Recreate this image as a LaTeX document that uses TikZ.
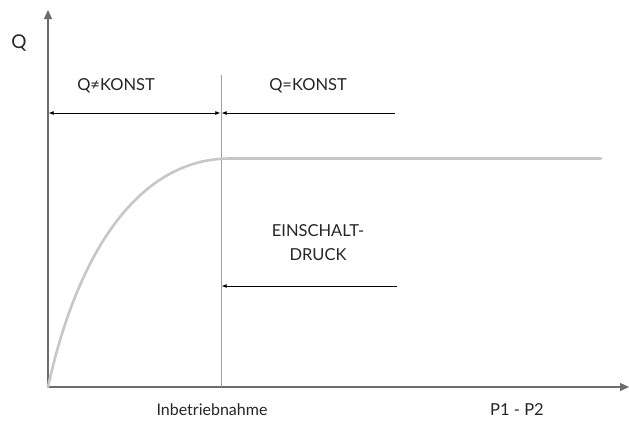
\documentclass[tikz,border=0pt]{standalone}
\usepackage{fontspec}
\setmainfont{Lato}
\usetikzlibrary{arrows.meta}
\begin{document}
\begin{tikzpicture}[x=1pt,y=-1pt,
  axis/.style={draw=gray!85!black,line width=1.4pt,-{Triangle[length=9pt,width=8pt]}},
  dimline/.style={draw=black,line width=0.7pt},
  tip/.style={-{Latex[length=5pt,width=4pt]}},
  lbl/.style={font=\fontsize{16.5}{24}\selectfont,text=black!85},
  small/.style={font=\fontsize{16}{18}\selectfont,text=black!85}]
\useasboundingbox[fill=white] (0,0) rectangle (629,426);
\coordinate (O) at (48,387);
\coordinate (ytop) at (48,10);
\coordinate (xend) at (629,387);
\draw[axis] (O) -- (ytop);
\draw[axis] (O) -- (xend);
\coordinate (vtop) at (221,75);
\coordinate (vbot) at (221,387);
\draw[draw=gray!75,line width=0.7pt] (vtop) -- (vbot);
% curve
\coordinate (kink) at (230,158.5);
\coordinate (cend) at (601,158.5);
\draw[draw=black!22,line width=2.6pt,line cap=round] (O) .. controls (78,250) and (140,158.5) .. (kink) -- (cend);
% dimension arrows
\coordinate (a1) at (48.7,113);
\coordinate (a2) at (220.3,113);
\coordinate (b1) at (221.7,113);
\coordinate (b2) at (395,113);
\coordinate (c1) at (221.7,286);
\coordinate (c2) at (397,286);
\draw[dimline,{Latex[length=5pt,width=4pt]}-{Latex[length=5pt,width=4pt]}] (a1) -- (a2);
\draw[dimline,tip] (b2) -- (b1);
\draw[dimline,tip] (c2) -- (c1);
% labels
\node[font=\fontsize{19}{21}\selectfont,text=black!85] (q) at (19,43) {Q};
\node[lbl] (qne) at (116,86) {Q≠KONST};
\node[lbl] (qeq) at (308,86) {Q=KONST};
\node[lbl,align=center] (ein) at (318,243) {EINSCHALT-\\DRUCK};
\node[small] (inb) at (212,410) {Inbetriebnahme};
\node[lbl] (p12) at (517,410) {P1 - P2};
\end{tikzpicture}
\end{document}
